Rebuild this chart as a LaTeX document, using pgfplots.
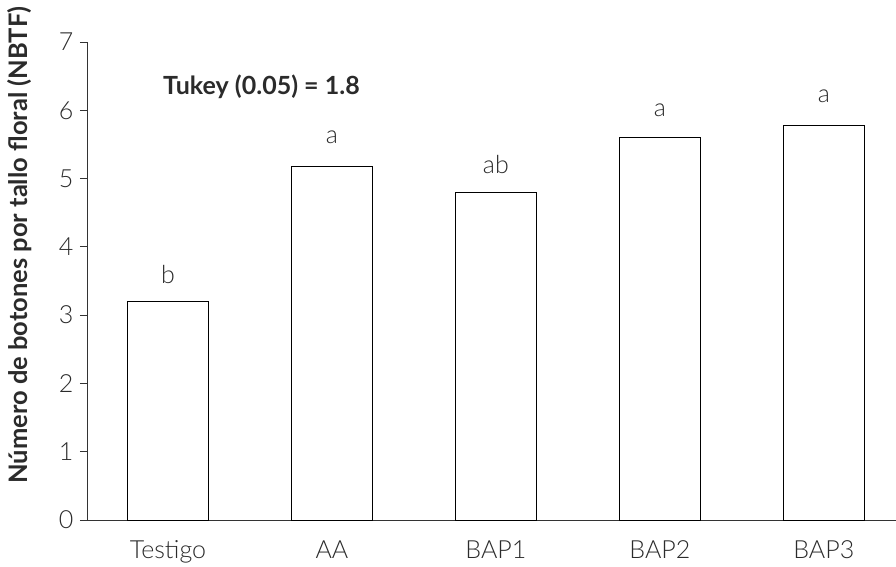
\documentclass[border=0pt]{standalone}
\usepackage{pgfplots}
\pgfplotsset{compat=1.18}
\usepackage{fontspec}
\setmainfont{Lato}[UprightFont={* Light},BoldFont={* Bold}]
\definecolor{txt}{HTML}{2B2B2B}
\begin{document}
\begin{tikzpicture}
\begin{axis}[
  at={(87pt,46pt)}, anchor=south west,
  scale only axis, width=809pt, height=478pt,
  xmin=-0.494, xmax=4.44, ymin=0, ymax=7,
  axis lines=left,
  axis line style={-, draw=black!80, line width=0.9pt},
  ytick={0,1,2,3,4,5,6,7},
  xtick={0,1,2,3,4},
  xticklabels={Testigo,AA,BAP1,BAP2,BAP3},
  x tick style={draw=none},
  y tick style={draw=black!80, line width=0.9pt},
  tick align=outside, major tick length=7pt,
  tick label style={font=\fontsize{25}{27}\selectfont, text=txt},
  /pgf/number format/assume math mode=true,
  xticklabel style={yshift=-10pt},
  yticklabel style={xshift=-3pt},
  ylabel={\textbf{Número de botones por tallo floral (NBTF)}},
  ylabel style={at={(axis description cs:-0.0828,0.575)}, anchor=center, rotate=0, font=\fontsize{25.5}{27}\selectfont, text=txt},
  clip=false,
]
\addplot[ybar, bar width=0.495, fill=white, draw=black, line width=0.9pt] coordinates {(0,3.2) (1,5.18) (2,4.8) (3,5.6) (4,5.78)};
\node[font=\fontsize{25}{27}\selectfont, text=txt] at (axis cs:0,3.6) {b};
\node[font=\fontsize{25}{27}\selectfont, text=txt] at (axis cs:1,5.6) {a};
\node[font=\fontsize{25}{27}\selectfont, text=txt] at (axis cs:2,5.21) {ab};
\node[font=\fontsize{25}{27}\selectfont, text=txt] at (axis cs:3,6.0) {a};
\node[font=\fontsize{25}{27}\selectfont, text=txt] at (axis cs:4,6.2) {a};
\node[font=\fontsize{25}{27}\selectfont\bfseries, text=txt] at (axis cs:0.57,6.35) {Tukey (0.05) = 1.8};
\end{axis}
\pgfresetboundingbox
\path[use as bounding box] (0,0) rectangle (896pt,566pt);
\end{tikzpicture}
\end{document}
